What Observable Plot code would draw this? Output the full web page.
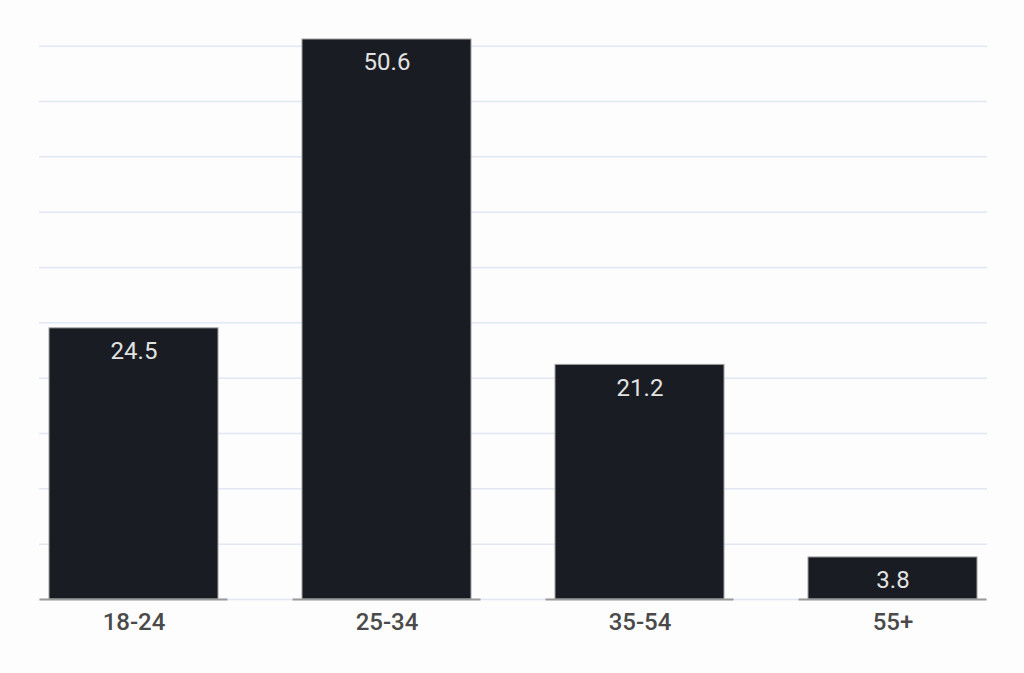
<!DOCTYPE html>
<html>
<head>
<meta charset="utf-8">
<script src="https://cdn.jsdelivr.net/npm/d3@7"></script>
<script src="https://cdn.jsdelivr.net/npm/@observablehq/plot@0.6"></script>
<style>
  html, body { margin: 0; padding: 0; background: #fdfdfd; }
  #chart { width: 1024px; height: 673px; }
</style>
</head>
<body>
<div id="chart"></div>
<script>
const ageGroups = ["18-24", "25-34", "35-54", "55+"];
const shares = [24.5, 50.6, 21.2, 3.8];
const gridValues = [0, 5, 10, 15, 20, 25, 30, 35, 40, 45, 50];

const data = ageGroups.map((a, i) => ({age: a, value: shares[i]}));

const chart = Plot.plot({
  width: 1024,
  height: 673,
  marginLeft: 39,
  marginRight: 37,
  marginTop: 39,
  marginBottom: 74,
  style: {fontFamily: "Roboto, sans-serif", background: "#fdfdfd", overflow: "visible"},
  x: {domain: ageGroups, paddingInner: 0.333, paddingOuter: 0.036, label: null},
  y: {domain: [0, 50.6], axis: null},
  marks: [
    Plot.ruleY(gridValues, {stroke: "#e2e8f3", strokeWidth: 1.5}),
    Plot.barY(data, {x: "age", y: "value", fill: "#191c22", stroke: "#a0a0a0", strokeWidth: 1}),
    Plot.tickY(data, {x: "age", y: () => 0, insetLeft: -9.5, insetRight: -9.5, stroke: "#9a9a9a", strokeWidth: 2}),
    Plot.text(data, {x: "age", y: "value", text: d => d.value.toFixed(1), dy: 23, fill: "#e2e2e2", fontSize: 24}),
    Plot.axisX({tickSize: 0, tickPadding: 13, fontSize: 24, fontWeight: 500, fill: "#4a4a4a", label: null})
  ]
});
document.getElementById("chart").appendChild(chart);
</script>
</body>
</html>
